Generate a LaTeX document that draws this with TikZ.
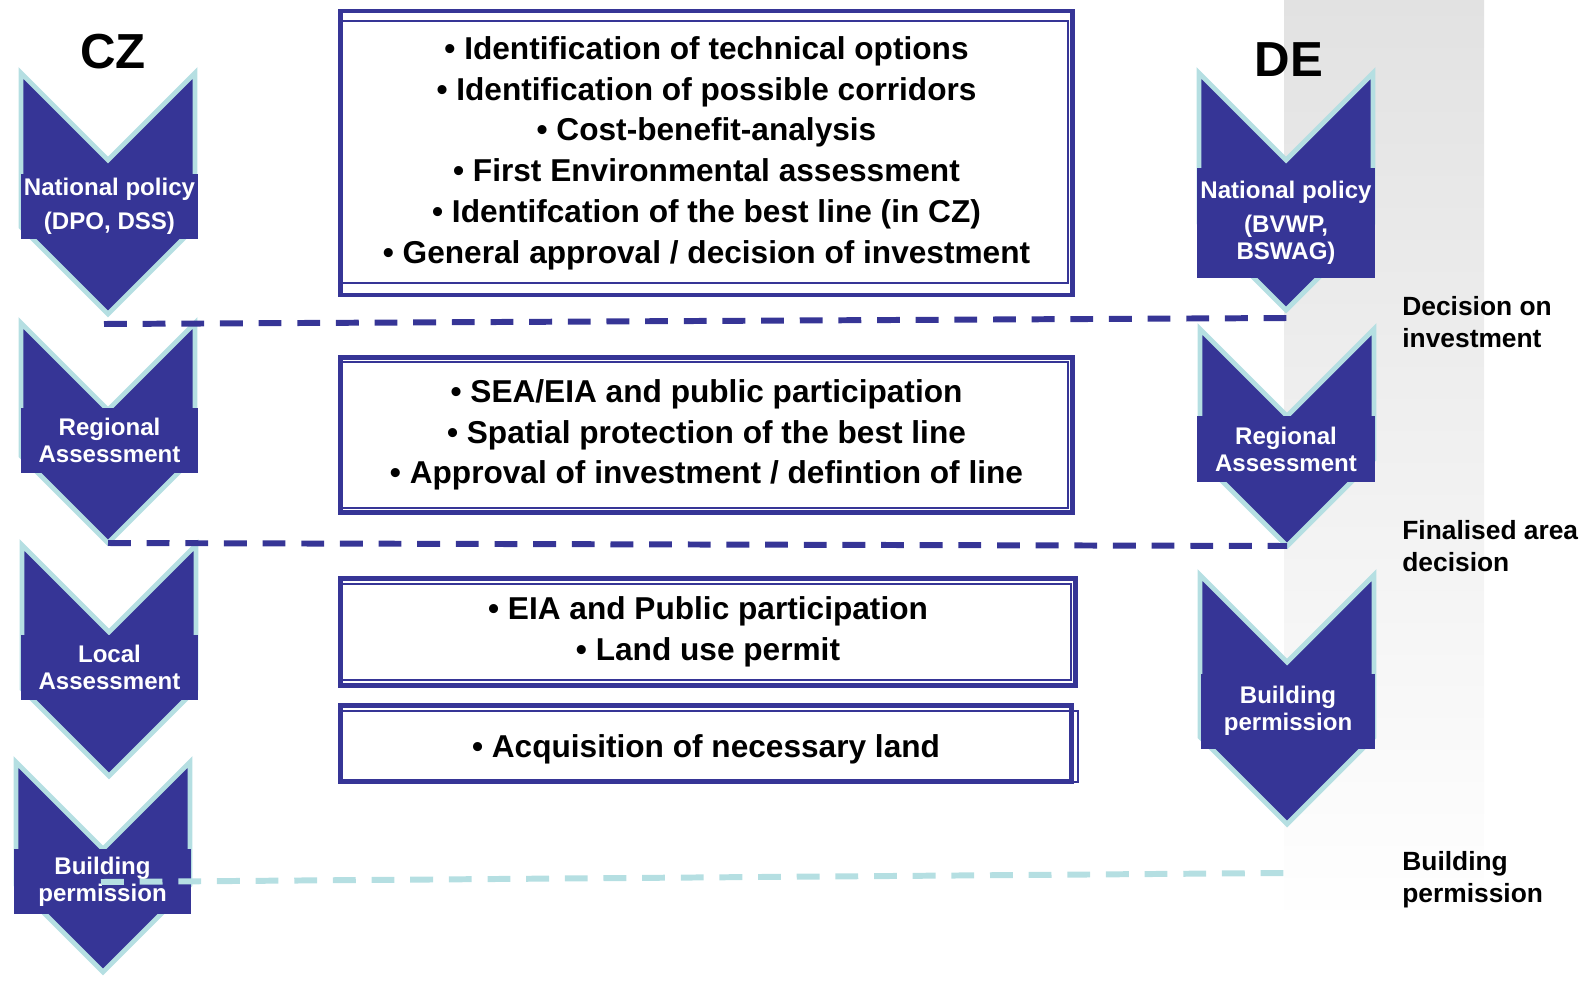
\documentclass[tikz,border=0pt]{standalone}
\usepackage{tikz}
\usepackage{xcolor}
\usepackage{fontspec}
\setmainfont{Liberation Sans}
\usetikzlibrary{positioning}
\usetikzlibrary{calc}

\definecolor{procblue}{RGB}{54,53,150}
\definecolor{edgeblue}{RGB}{181,223,226}
\definecolor{bandgray}{RGB}{226,226,226}

\newcommand{\mychevron}[4] % #1 = name , #2 = centre x, #3 = top y, #4 = tip y
{\draw[chevron] (#2-87,#3) -- (#2,#3+87) -- (#2+87,#3) -- (#2+87,#4-87) -- (#2,#4) -- (#2-87,#4-87) -- cycle;
    \coordinate (#1) at (#2,#4);
}

\begin{document}
\begin{tikzpicture}[x=0.02cm,y=-0.02cm,
        chevron/.style={fill=procblue, draw=edgeblue, line width=2.8pt},
        chevlabel/.style={fill=procblue, text=white, inner sep=0pt, align=center,
            font=\fontsize{13.7}{15.3}\selectfont\bfseries},
        stagebox/.style={draw=procblue, line width=2.8pt, inner sep=0pt, align=center,
            font=\fontsize{18}{23.2}\selectfont\bfseries},
        innerframe/.style={draw=procblue, line width=1.1pt},
        milestone/.style={draw=procblue, line width=3.4pt, dash pattern=on 13pt off 9pt},
        country/.style={inner sep=0pt, font=\fontsize{28}{30}\selectfont\bfseries},
        result/.style={anchor=west, inner sep=0pt, align=left,
            font=\fontsize{15}{18.1}\selectfont\bfseries}]

    \useasboundingbox (0,0) rectangle (1591,980);
    \shade[top color=bandgray, bottom color=white] (1284,0) rectangle (1484,925);

    \node[country] (cz) at (113,52) {CZ};
    \node[country] (de) at (1289,60) {DE};

    % stages in the middle
    \node[stagebox, minimum width=14.64cm, minimum height=5.68cm] (options) at (706.5,153)
        {\textbullet\ Identification of technical options\\
         \textbullet\ Identification of possible corridors\\
         \textbullet\ Cost-benefit-analysis\\
         \textbullet\ First Environmental assessment\\
         \textbullet\ Identifcation of the best line (in CZ)\\
         \textbullet\ General approval / decision of investment};
    \node[stagebox, minimum width=14.64cm, minimum height=3.1cm] (sea) at (706.5,435)
        {\textbullet\ SEA/EIA and public participation\\
         \textbullet\ Spatial protection of the best line\\
         \textbullet\ Approval of investment / defintion of line};
    \node[stagebox, minimum width=14.7cm, minimum height=2.14cm] (eia) at (708,632)
        {\textbullet\ EIA and Public participation\\
         \textbullet\ Land use permit};
    \node[stagebox, minimum width=14.62cm, minimum height=1.52cm, text height=20pt] (land) at (706,743.5)
        {\textbullet\ Acquisition of necessary land};
    \foreach \b/\t/\r/\d in {options/12/-7/14, sea/7/-7/7, eia/8/-7/8, land/8/4/2}
        \draw[innerframe] ($(\b.north west)+(3,\t)$) rectangle ($(\b.south east)+(\r,-\d)$);

    % CZ side
    \mychevron{czpoltip}{108}{73}{314}
    \mychevron{czregtip}{108}{323}{543}
    \mychevron{czloctip}{109}{545}{776}
    \mychevron{czbuildtip}{103}{762}{972}
    \node[chevlabel, minimum width=3.54cm, minimum height=1.3cm] (czpol) at (109.5,206.5) {National policy\\[4pt](DPO, DSS)};
    \node[chevlabel, minimum width=3.54cm, minimum height=1.3cm] (czreg) at (109.5,440.5) {Regional\\Assessment};
    \node[chevlabel, minimum width=3.54cm, minimum height=1.3cm] (czloc) at (109.5,667.5) {Local\\Assessment};
    \node[chevlabel, minimum width=3.54cm, minimum height=1.3cm] (czbuild) at (102.5,881.5) {Building\\permission};

    % DE side
    \mychevron{depoltip}{1286}{73}{310}
    \mychevron{deregtip}{1287}{329}{546}
    \mychevron{debuildtip}{1287}{575}{824}
    \node[chevlabel, minimum width=3.56cm, minimum height=2.2cm] (depol) at (1286,223) {National policy\\[4pt](BVWP,\\BSWAG)};
    \node[chevlabel, minimum width=3.56cm, minimum height=1.32cm] (dereg) at (1286,449) {Regional\\Assessment};
    \node[chevlabel, minimum width=3.48cm, minimum height=1.5cm] (debuild) at (1288,711) {Building\\permission};

    % milestones
    \coordinate (czinv) at (104,324);
    \coordinate (deinv) at (1287,318);
    \coordinate (czperm) at (101,882);
    \coordinate (deperm) at (1284,873);
    \draw[milestone] (czinv) -- (deinv);
    \draw[milestone] (czregtip) -- (deregtip);
    \draw[milestone, draw=edgeblue] (czperm) -- (deperm);

    \node[result] (invest) at (1402,322) {Decision on\\investment};
    \node[result] (area) at (1402,546) {Finalised area\\decision};
    \node[result] (permit) at (1402,880) {Building\\permission};
\end{tikzpicture}
\end{document}
